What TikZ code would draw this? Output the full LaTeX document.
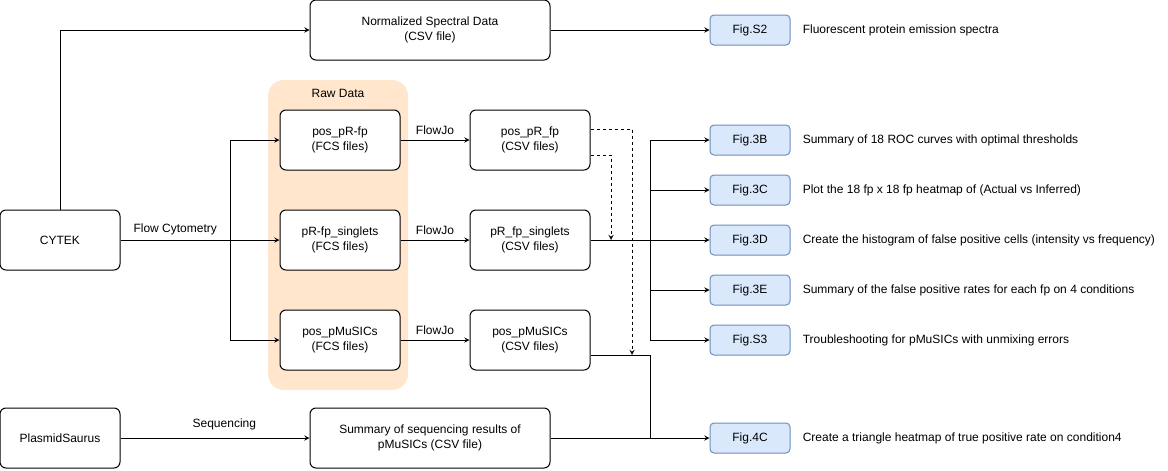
\documentclass[tikz,border=0pt]{standalone}
\usepackage{fontspec}
\setmainfont{Liberation Sans}
\usepackage{xcolor}
\usetikzlibrary{arrows, positioning, calc}
\definecolor{rawfill}{HTML}{FFE6CC}
\definecolor{figfill}{HTML}{DAE8FC}
\definecolor{figdraw}{HTML}{6C8EBF}

\begin{document}
\begin{tikzpicture}[
    x=0.75pt, y=-0.75pt,
    box/.style={rectangle, draw=black, fill=white, rounded corners=4.5pt, minimum width=90pt, minimum height=45pt, align=center, font=\fontsize{9}{11}\selectfont, line width=0.75pt},
    widebox/.style={box, minimum width=180pt},
    figbox/.style={rectangle, draw=figdraw, fill=figfill, rounded corners=3pt, minimum width=60pt, minimum height=22.5pt, font=\fontsize{9}{11}\selectfont, line width=0.75pt},
    desc/.style={right=5.7pt of #1, font=\fontsize{9}{11}\selectfont},
    lbl/.style={font=\fontsize{9}{11}\selectfont},
    arrow/.style={line width=0.75pt, ->, >=stealth},
    dasharrow/.style={arrow, dash pattern=on 2.25pt off 2.25pt}
]
    \useasboundingbox (0,0) rectangle (1168,471);

    % Group
    \node (rawgroup) [fill=rawfill, rounded corners=12pt, minimum width=105pt, minimum height=232.5pt] at (338,235) {};
    \node (rawlbl) [lbl] at (338,93) {Raw Data};

    % Sources
    \node (cytek) [box] at (60,240) {CYTEK};
    \node (plasmid) [box] at (60,438) {PlasmidSaurus};
    \node (normdata) [widebox] at (430,30) {Normalized Spectral Data\\(CSV file)};
    \node (seqsum) [widebox] at (430,438) {Summary of sequencing results of\\pMuSICs (CSV file)};

    % Raw files
    \node (fcspos) [box] at (340,140) {pos\_pR-fp\\(FCS files)};
    \node (fcssing) [box] at (340,240) {pR-fp\_singlets\\(FCS files)};
    \node (fcsmus) [box] at (340,340) {pos\_pMuSICs\\(FCS files)};

    % CSV files
    \node (csvpos) [box] at (530,140) {pos\_pR\_fp\\(CSV files)};
    \node (csvsing) [box] at (530,240) {pR\_fp\_singlets\\(CSV files)};
    \node (csvmus) [box] at (530,340) {pos\_pMuSICs\\(CSV files)};

    % Figures
    \node (figs2) [figbox] at (750,30) {Fig.S2};
    \node (fig3b) [figbox] at (750,140) {Fig.3B};
    \node (fig3c) [figbox] at (750,190) {Fig.3C};
    \node (fig3d) [figbox] at (750,240) {Fig.3D};
    \node (fig3e) [figbox] at (750,290) {Fig.3E};
    \node (figs3) [figbox] at (750,340) {Fig.S3};
    \node (fig4c) [figbox] at (750,438) {Fig.4C};

    \node (descs2) [desc=figs2] {Fluorescent protein emission spectra};
    \node (desc3b) [desc=fig3b] {Summary of 18 ROC curves with optimal thresholds};
    \node (desc3c) [desc=fig3c] {Plot the 18 fp x 18 fp heatmap of (Actual vs Inferred)};
    \node (desc3d) [desc=fig3d] {Create the histogram of false positive cells (intensity vs frequency)};
    \node (desc3e) [desc=fig3e] {Summary of the false positive rates for each fp on 4 conditions};
    \node (descs3) [desc=figs3] {Troubleshooting for pMuSICs with unmixing errors};
    \node (desc4c) [desc=fig4c] {Create a triangle heatmap of true positive rate on condition4};

    % Flows
    \coordinate (split) at (230,240);
    \coordinate (fan) at (650,240);
    \coordinate (join) at (650,438);
    \coordinate (singdrop) at (611,240);
    \coordinate (musdrop) at (632,355);

    \draw [arrow] (cytek.north) |- (normdata.west);
    \draw [arrow] (normdata) -- (figs2);
    \draw [line width=0.75pt] (cytek.east) -- node[lbl, above] {Flow Cytometry} (split);
    \draw [arrow] (split) -- (fcssing.west);
    \draw [arrow] (split) |- (fcspos.west);
    \draw [arrow] (split) |- (fcsmus.west);

    \draw [arrow] (fcspos) -- node[lbl, above] {FlowJo} (csvpos);
    \draw [arrow] (fcssing) -- node[lbl, above] {FlowJo} (csvsing);
    \draw [arrow] (fcsmus) -- node[lbl, above] {FlowJo} (csvmus);

    \draw [dasharrow] ([yshift=8.25pt]csvpos.east) -| (musdrop);
    \draw [dasharrow] ([yshift=-11.25pt]csvpos.east) -| (singdrop);

    \draw [arrow] (csvsing.east) -- (fig3d.west);
    \draw [arrow] (fan) |- (fig3b.west);
    \draw [arrow] (fan) |- (fig3c.west);
    \draw [arrow] (fan) |- (fig3e.west);
    \draw [arrow] (fan) |- (figs3.west);

    \draw [line width=0.75pt] ([yshift=-11.25pt]csvmus.east) -| (join);
    \draw [arrow] (plasmid) -- node[lbl, above=2pt, xshift=7pt] {Sequencing} (seqsum);
    \draw [arrow] (seqsum) -- (fig4c);

\end{tikzpicture}
\end{document}
